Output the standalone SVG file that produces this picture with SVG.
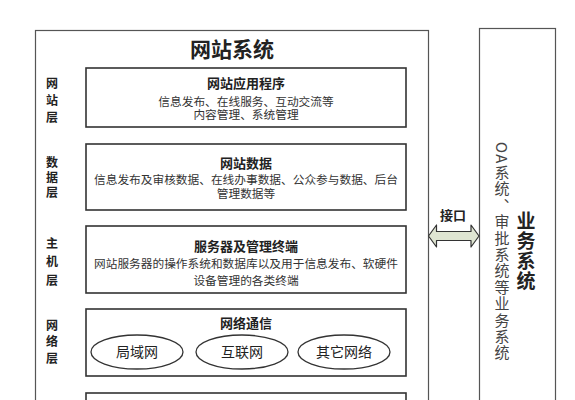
<svg xmlns="http://www.w3.org/2000/svg" width="575" height="400" viewBox="0 0 575 400">
<style>
text{font-family:"Noto Sans CJK SC","Noto Sans",sans-serif;fill:#222;}
.frame{fill:#fff;stroke:#555;stroke-width:1.2;}
.box{fill:#fff;stroke:#333;stroke-width:1.6;}
.ell{fill:#fff;stroke:#333;stroke-width:1.3;}
.lbl{font-size:12px;font-weight:bold;writing-mode:vertical-rl;}
.txt{font-size:11.7px;text-anchor:middle;dominant-baseline:central;fill:#333;}
.t{font-size:13px;font-weight:bold;fill:#222;}
.ttl{font-size:13px;font-weight:bold;text-anchor:middle;dominant-baseline:central;}
.net{font-size:14px;text-anchor:middle;dominant-baseline:central;}
.vt{font-size:15px;fill:#444;writing-mode:vertical-rl;text-orientation:mixed;letter-spacing:1.4px;}
.vb{font-size:19px;font-weight:bold;writing-mode:vertical-rl;text-orientation:mixed;letter-spacing:1px;}
</style>
<rect width="575" height="400" fill="#fff"/>
<g id="website-system">
<rect class="frame" x="35.5" y="30.5" width="393" height="380"/>
<text x="232" y="48" font-size="21" font-weight="bold" text-anchor="middle" dominant-baseline="central">网站系统</text>
</g>
<g id="layer-web">
<text class="lbl" x="52" y="77" letter-spacing="5">网站层</text>
<rect class="box" x="86" y="68" width="320" height="59"/>
<text class="txt" x="246" y="82"><tspan class="t">网站应用程序</tspan><tspan x="246" dy="17.5">信息发布、在线服务、互动交流等</tspan><tspan x="246" dy="13.5">内容管理、系统管理</tspan></text>
</g>
<g id="layer-data">
<text class="lbl" x="52" y="156" letter-spacing="3">数据层</text>
<rect class="box" x="86" y="144" width="320" height="66"/>
<text class="txt" x="246" y="162"><tspan class="t">网站数据</tspan><tspan x="246" dy="16">信息发布及审核数据、在线办事数据、公众参与数据、后台</tspan><tspan x="246" dy="14">管理数据等</tspan></text>
</g>
<g id="layer-host">
<text class="lbl" x="52" y="237" letter-spacing="6.5">主机层</text>
<rect class="box" x="86" y="226" width="320" height="67"/>
<text class="txt" x="246" y="245"><tspan class="t">服务器及管理终端</tspan><tspan x="246" dy="17">网站服务器的操作系统和数据库以及用于信息发布、软硬件</tspan><tspan x="246" dy="17">设备管理的各类终端</tspan></text>
</g>
<g id="layer-network">
<text class="lbl" x="52" y="319" letter-spacing="4.5">网络层</text>
<rect class="box" x="86" y="309" width="320" height="67"/>
<text class="ttl" x="246" y="322">网络通信</text>
</g>
<g id="lan"><ellipse class="ell" cx="137" cy="352" rx="46" ry="17"/><text class="net" x="137" y="351">局域网</text></g>
<g id="internet"><ellipse class="ell" cx="242" cy="352" rx="46" ry="17"/><text class="net" x="242" y="351">互联网</text></g>
<g id="other-net"><ellipse class="ell" cx="344" cy="352" rx="46" ry="17"/><text class="net" x="344" y="351">其它网络</text></g>
<g id="layer-5">
<rect class="box" x="86" y="393" width="320" height="30"/>
</g>
<g id="business-system">
<rect class="frame" x="479.5" y="28.5" width="76" height="385"/>
<text class="vt" x="502" y="142">OA系统、审批系统等业务系统</text>
<text class="vb" x="526" y="211">业务系统</text>
</g>
<g id="connectors">
<path d="M428.5 236 L436.5 225 L436.5 231.5 L471 231.5 L471 225 L479 236 L471 247 L471 240.5 L436.5 240.5 L436.5 247 Z" fill="#dfe5d2" stroke="#333" stroke-width="1.2" stroke-linejoin="round"/>
<text x="453" y="214" font-size="13" font-weight="bold" text-anchor="middle" dominant-baseline="central">接口</text>
</g>
</svg>
